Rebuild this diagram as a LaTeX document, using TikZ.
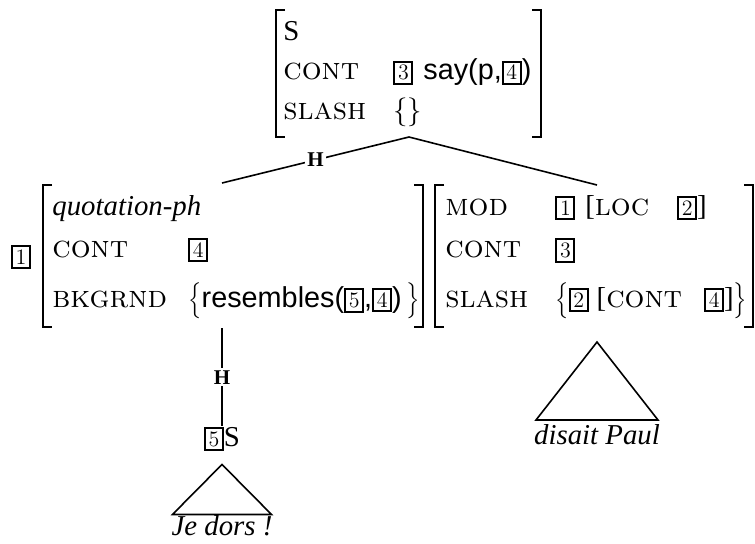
\documentclass[tikz,border=0pt]{standalone}
\usepackage{fontspec}
\newfontfamily\timesfont{Liberation Serif}
\newfontfamily\helvfont{Liberation Sans}
\usepackage{tikz}
\usetikzlibrary{positioning}

\newcommand{\feat}[1]{{\rmfamily\fontsize{15.6}{17.28}\selectfont\scshape #1}}
\newcommand{\tagbox}[1]{{\setlength{\fboxsep}{1.3pt}\setlength{\fboxrule}{1pt}%
  \fbox{\rmfamily\fontsize{11}{12}\selectfont #1}}}
\newcommand{\sem}[1]{{\helvfont #1}}
\newcommand{\avmbrack}[4]{%
  \draw[bracket] (#1+9,#3) -| (#1,#4) -- (#1+9,#4);
  \draw[bracket] (#2-9,#3) -| (#2,#4) -- (#2-9,#4);}

\tikzset{
  bracket/.style={line width=0.6pt},
  branch/.style={line width=0.8pt},
  hlabel/.style={fill=white, inner sep=1pt,
    font=\fontsize{10.5}{12}\selectfont\timesfont\bfseries},
  avm/.style={anchor=base west, inner sep=0pt}
}

\begin{document}
\begin{tikzpicture}[x=0.5pt, y=-0.5pt, font=\fontsize{14.4}{17.28}\selectfont\timesfont]
    \useasboundingbox (0,0) rectangle (755,543);

    % mother
    \node[avm] (mother) at (283,40) {\begin{tabular}[t]{@{}p{55pt}@{}l@{}}
        \multicolumn{2}{@{}l@{}}{S} \\[2.7pt]
        \feat{cont} & \tagbox{3}\hspace{5pt}\sem{say(p,\tagbox{4})} \\[2.7pt]
        \feat{slash} & $\{\}$
      \end{tabular}};
    \avmbrack{276}{541}{10}{137}

    % head daughter
    \node[avm] (quotph) at (52,215) {\begin{tabular}[t]{@{}p{68pt}@{}l@{}}
        \multicolumn{2}{@{}l@{}}{\textit{quotation-ph}} \\[4pt]
        \feat{cont} & \tagbox{4} \\[7.2pt]
        \feat{bkgrnd} & $\left\{\rule{0pt}{12pt}\mbox{\sem{resembles(\tagbox{5},\tagbox{4})}}\,\right\}$
      \end{tabular}};
    \avmbrack{43}{423}{185}{327}
    \node (tagone) at (21,257) {\tagbox{1}};

    % incise
    \node[avm] (incise) at (445,215) {\begin{tabular}[t]{@{}p{55pt}@{}l@{}}
        \feat{mod} & \tagbox{1}\hspace{5pt}[\feat{loc}\hspace{14pt}\tagbox{2}] \\[4pt]
        \feat{cont} & \tagbox{3} \\[7.2pt]
        \feat{slash} & $\left\{\rule{0pt}{12pt}\mbox{\tagbox{2}\hspace{4pt}[\feat{cont}\hspace{11pt}\tagbox{4}]}\right\}$
      \end{tabular}};
    \avmbrack{435}{753}{185}{327}

    \coordinate (mother foot) at (409,137);
    \coordinate (quotph head) at (222,183);
    \coordinate (incise head) at (597,185);
    \coordinate (quotph foot) at (222,328);

    \draw[branch] (mother foot) -- node[hlabel] {H} (quotph head);
    \draw[branch] (mother foot) -- (incise head);

    % quoted sentence
    \node[anchor=base, inner sep=0pt] (quotdtr) at (222,446) {\tagbox{5}S};
    \draw[branch] (quotph foot) -- node[hlabel] {H} (quotph foot |- quotdtr.north);
    \draw[branch] ([yshift=-6.5pt]quotdtr.south) -- ++(-49.5,50) -- ++(99,0) -- cycle;
    \node[anchor=base, inner sep=0pt] (jedors) at (222,535) {\textit{Je dors !}};

    % disait Paul
    \coordinate (incise tri) at (597,342);
    \draw[branch] (incise tri) -- (536,420) -- (658,420) -- cycle;
    \node[anchor=base, inner sep=0pt] (disait) at (597,444) {\textit{disait Paul}};
\end{tikzpicture}
\end{document}
